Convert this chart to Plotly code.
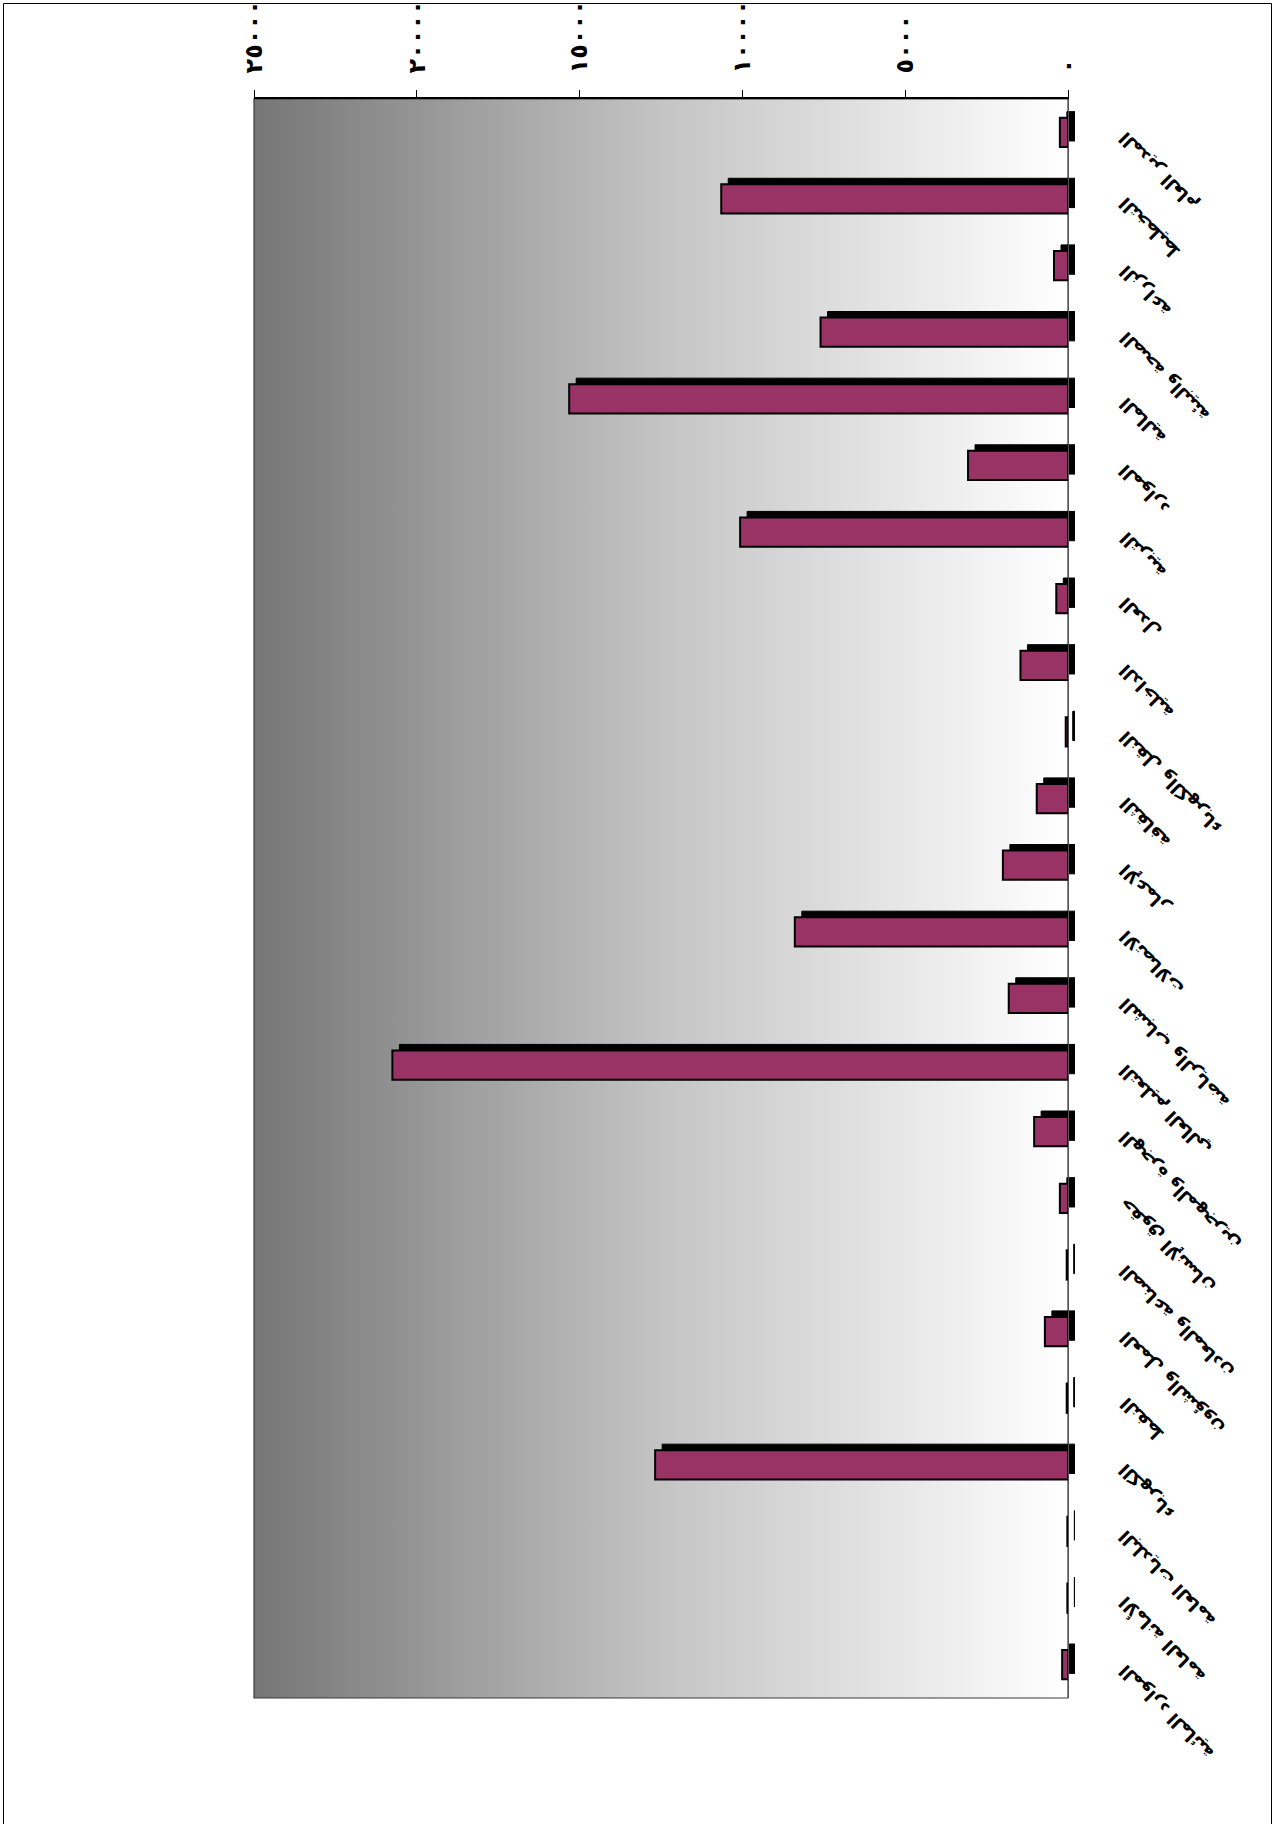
import base64
import plotly.graph_objects as go

# ---- data ----
categories = [
    "المدير العام", "التخطيط", "الزراعة", "الصحة والبيئة", "المالية", "الموارد",
    "التربية", "العدل", "الداخلية", "النقل والكهرباء", "الثقافة", "الإعمار",
    "الاتصالات", "الشباب والرياضة", "التعليم العالي", "الهجرة والمهجرين",
    "حقوق الإنسان", "الصناعة والمعادن", "العمل والشؤون", "النفط", "الكهرباء",
    "البلديات العامة", "الأمانة العامة", "الموارد المائية",
]
values = [250, 10650, 430, 7600, 15320, 3070, 10070, 360, 1460, 70, 960, 2000,
          8390, 1820, 20750, 1040, 250, 40, 710, 40, 12680, 20, 20, 180]
tick_values = [0, 5000, 10000, 15000, 20000, 25000]
tick_labels = ["٠", "٥٠٠٠", "١٠٠٠٠", "١٥٠٠٠", "٢٠٠٠٠", "٢٥٠٠٠"]

# ---- layout geometry (pixels) ----
W, H = 1276, 1824
L, R, T, B = 254, 1068, 99, 1698
DX, DY = 7, 6                      # 3-D shadow offset
PW = R + DX - L
PH = B - (T - DY)

BAR_COLOR = "#993366"
cat_range = [len(categories) - 0.5, -0.5]   # top-to-bottom order

fig = go.Figure()

# shadow copy (drawn first, on a subplot shifted right/up)
fig.add_trace(go.Bar(
    x=values, y=categories, orientation="h",
    marker=dict(color="black", line=dict(color="black", width=1)),
    xaxis="x", yaxis="y", hoverinfo="skip", showlegend=False,
))
# main bars
fig.add_trace(go.Bar(
    x=values, y=categories, orientation="h",
    marker=dict(color=BAR_COLOR, line=dict(color="black", width=2)),
    xaxis="x2", yaxis="y2", showlegend=False,
))

x_main = [0, (R - L) / PW]
y_main = [0, (B - T) / PH]
x_shadow = [DX / PW, 1]
y_shadow = [DY / PH, 1]

svg = ('<svg xmlns="http://www.w3.org/2000/svg" width="100" height="100" '
       'viewBox="0 0 100 100" preserveAspectRatio="none">'
       '<defs><linearGradient id="g" x1="0" y1="0" x2="1" y2="0">'
       '<stop offset="0" stop-color="#767676"/>'
       '<stop offset="0.5" stop-color="#c4c4c4"/>'
       '<stop offset="1" stop-color="#ffffff"/>'
       '</linearGradient></defs>'
       '<rect x="0" y="0" width="100" height="100" fill="url(#g)"/></svg>')
src = "data:image/svg+xml;base64," + base64.b64encode(svg.encode()).decode()


def px_to_paper_x(px):
    return (px - L) / PW


def px_to_paper_y(py):
    return (B - py) / PH


label_font = dict(size=18, family="DejaVu Sans", color="black", weight="bold")
annotations = [
    dict(x=px_to_paper_x(1112), xref="paper", y=cat, yref="y2",
         text=cat, textangle=-135, showarrow=False,
         xanchor="left", yanchor="top", yshift=8, font=label_font)
    for cat in categories
]

fig.update_layout(
    width=W, height=H, autosize=False,
    margin=dict(l=L, r=W - (R + DX), t=T - DY, b=H - B, pad=0,
                autoexpand=False),
    paper_bgcolor="white", plot_bgcolor="rgba(0,0,0,0)",
    bargap=0.56,
    font=dict(family="DejaVu Sans", color="black"),
    xaxis=dict(domain=x_shadow, anchor="y", range=[25000, 0], visible=False,
               fixedrange=True),
    yaxis=dict(domain=y_shadow, anchor="x", type="category",
               categoryarray=categories, range=cat_range, visible=False,
               fixedrange=True),
    xaxis2=dict(domain=x_main, anchor="y2", side="top", range=[25000, 0],
                tickvals=tick_values, ticktext=tick_labels, tickangle=-90,
                tickfont=dict(size=24, family="DejaVu Sans", weight="bold"),
                ticks="outside", ticklen=7, tickcolor="black", tickwidth=1,
                showline=True, linecolor="black", linewidth=1.5,
                showgrid=False, zeroline=False, ticklabelstandoff=12,
                automargin=False, fixedrange=True),
    yaxis2=dict(domain=y_main, anchor="x2", side="right", type="category",
                categoryarray=categories, range=cat_range,
                showticklabels=False, ticks="",
                showline=True, linecolor="#555555", linewidth=1,
                showgrid=False, zeroline=False, automargin=False,
                fixedrange=True),
    annotations=annotations,
    images=[dict(source=src, xref="paper", yref="paper", x=0, y=y_main[1],
                 sizex=x_main[1], sizey=y_main[1], xanchor="left",
                 yanchor="top", sizing="stretch", layer="below")],
    shapes=[
        dict(type="rect", xref="paper", yref="paper",
             x0=0, x1=x_main[1], y0=0, y1=y_main[1],
             line=dict(color="#3a3a3a", width=1.2), layer="below"),
        dict(type="rect", xref="paper", yref="paper",
             x0=px_to_paper_x(3.5), x1=px_to_paper_x(1271.5),
             y0=px_to_paper_y(1840), y1=px_to_paper_y(3.5),
             line=dict(color="black", width=1)),
    ],
)

fig.write_html("out.html", config=dict(displayModeBar=False),
               post_script="document.body.style.margin='0';"
                           "document.body.style.overflow='hidden';")
